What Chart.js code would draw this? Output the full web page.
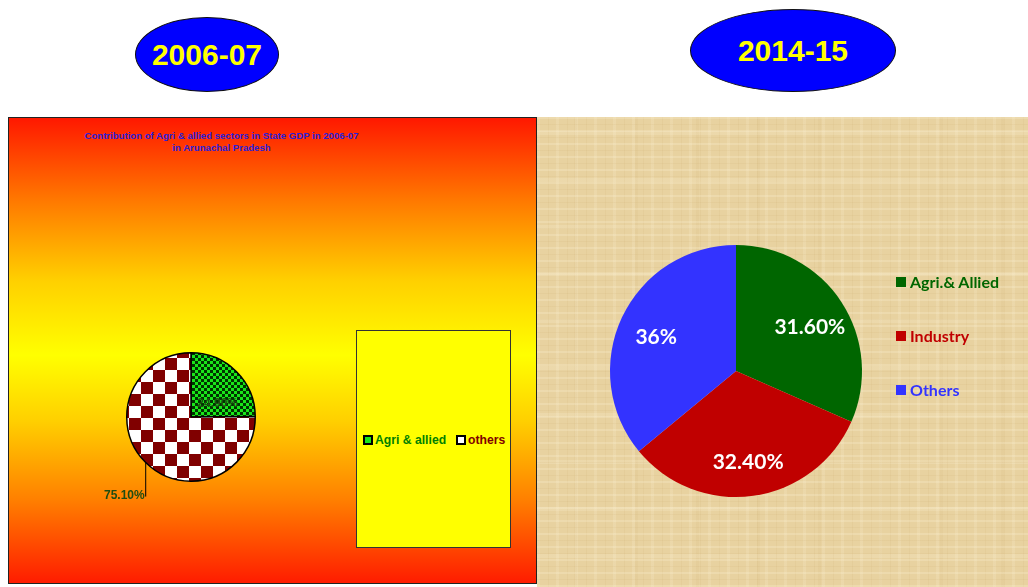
<!DOCTYPE html>
<html>
<head>
<meta charset="utf-8">
<script src="https://cdn.jsdelivr.net/npm/chart.js@4"></script>
<style>
  body { margin: 0; background: #fff; }
  #page { position: relative; width: 1028px; height: 587px; overflow: hidden; background: #fff; }
  .oval {
    position: absolute; background: #0000ff; border: 1px solid #111; border-radius: 50%;
    color: #ffff00; font: bold 30px "Liberation Sans", Arial, sans-serif;
    display: flex; align-items: center; justify-content: center; box-sizing: border-box;
  }
  #left {
    position: absolute; left: 8px; top: 117px; width: 529px; height: 467px; box-sizing: border-box;
    border: 1px solid #222;
    background: linear-gradient(to bottom, #ff1800 0%, #ff7a00 18%, #ffd000 35%, #ffff00 51%, #ffd000 65%, #ff8000 82%, #ff1c00 100%);
  }
  #right {
    position: absolute; left: 537px; top: 117px; width: 491px; height: 470px;
    background-color: #e8d2a0;
    background-image:
      repeating-linear-gradient(0deg, rgba(255,246,220,0.22) 0 2px, transparent 2px 7px, rgba(180,140,70,0.07) 7px 8px, transparent 8px 13px),
      repeating-linear-gradient(90deg, rgba(255,246,220,0.16) 0 3px, transparent 3px 11px, rgba(180,140,70,0.07) 11px 12px, transparent 12px 19px),
      repeating-linear-gradient(0deg, transparent 0 29px, rgba(255,246,220,0.18) 29px 33px, transparent 33px 47px),
      repeating-linear-gradient(90deg, transparent 0 37px, rgba(180,140,70,0.06) 37px 40px, transparent 40px 61px);
  }
  canvas { position: absolute; left: 0; top: 0; }
  #title06 {
    position: absolute; left: 0; top: 12px; width: 425px; text-align: center;
    font: bold 9.6px "Liberation Sans", Arial, sans-serif; color: #2a1fd8; line-height: 12px;
  }
  #legbox {
    position: absolute; left: 347px; top: 212px; width: 155px; height: 218px;
    background: #ffff00; border: 1px solid #333; box-sizing: border-box;
  }
  .lg1 { position: absolute; top: 315px; font: bold 12.2px "Liberation Sans", Arial, sans-serif; display: flex; align-items: center; }
  .lg1 i { display: inline-block; width: 6px; height: 6px; border: 2px solid #000; margin-right: 2px; }
  .lg2 { position: absolute; left: 359px; font: bold 16px Lato, "Open Sans", sans-serif; display: flex; align-items: center; }
  .lg2 i { display: inline-block; width: 10px; height: 10px; margin-right: 4px; }
</style>
</head>
<body>
<div id="page">
  <div class="oval" style="left:135px;top:17px;width:144px;height:75px;">2006-07</div>
  <div class="oval" style="left:690px;top:9px;width:206px;height:83px;">2014-15</div>

  <div id="left">
    <div id="title06">Contribution of Agri &amp; allied sectors in State GDP in 2006-07<br>in Arunachal Pradesh</div>
    <div id="legbox"></div>
    <div id="leg06"></div>
    <canvas id="pie06" width="527" height="465"></canvas>
  </div>

  <div id="right">
    <canvas id="pie14" width="491" height="470"></canvas>
    <div id="leg14"></div>
  </div>
</div>

<script>
  // 2006-07 data
  var labels06 = ["Agri & allied", "others"];
  var values06 = [24.9, 75.1];
  var text06 = ["24.90%", "75.10%"];
  var legendColors06 = ["#008000", "#800000"];

  // 2014-15 data
  var labels14 = ["Agri.& Allied", "Industry", "Others"];
  var values14 = [31.6, 32.4, 36];
  var text14 = ["31.60%", "32.40%", "36%"];
  var colors14 = ["#006600", "#c00000", "#3333ff"];

  function checker(size, a, b) {
    var c = document.createElement("canvas");
    c.width = size * 2;
    c.height = size * 2;
    var x = c.getContext("2d");
    x.fillStyle = a;
    x.fillRect(0, 0, size * 2, size * 2);
    x.fillStyle = b;
    x.fillRect(size, 0, size, size);
    x.fillRect(0, size, size, size);
    return x.createPattern(c, "repeat");
  }

  function init() {
    var ctx06 = document.getElementById("pie06").getContext("2d");
    var patterns06 = [checker(3, "#19e619", "#003300"), checker(12, "#ffffff", "#800000")];
    var legendSwatch06 = ["#19e619", "#ffffff"];

    // legend of the old chart
    var leg06 = document.getElementById("leg06");
    var lx = [354, 447];
    labels06.forEach(function (l, i) {
      var d = document.createElement("div");
      d.className = "lg1";
      d.style.left = lx[i] + "px";
      d.style.color = legendColors06[i];
      d.innerHTML = '<i style="background:' + legendSwatch06[i] + '"></i>' + l;
      leg06.appendChild(d);
    });

    var labels06Plugin = {
      id: "labels06",
      afterDatasetsDraw: function (chart) {
        var c = chart.ctx;
        var arcs = chart.getDatasetMeta(0).data;
        c.save();
        c.font = "bold 12px 'Liberation Sans', Arial, sans-serif";
        c.fillStyle = "#1f4d12";
        // label inside the small slice
        var p = arcs[0].tooltipPosition();
        c.textAlign = "center";
        c.textBaseline = "middle";
        c.fillText(text06[0], p.x + 4, p.y + 9);
        // label outside with leader line
        var a = arcs[1];
        var mid = (a.startAngle + a.endAngle) / 2;
        var sx = a.x + a.outerRadius * Math.cos(mid);
        var sy = a.y + a.outerRadius * Math.sin(mid);
        c.strokeStyle = "#000";
        c.lineWidth = 1;
        c.beginPath();
        c.moveTo(sx, sy);
        c.lineTo(sx, sy + 34);
        c.stroke();
        c.textAlign = "right";
        c.textBaseline = "alphabetic";
        c.fillText(text06[1], sx - 1, sy + 36);
        c.restore();
      },
    };

    new Chart(ctx06, {
      type: "pie",
      data: {
        labels: labels06,
        datasets: [
          {
            data: values06,
            backgroundColor: patterns06,
            borderColor: "#000",
            borderWidth: 1.5,
          },
        ],
      },
      options: {
        responsive: false,
        animation: false,
        devicePixelRatio: 1,
        layout: { padding: { left: 117, right: 280, top: 234, bottom: 101 } },
        plugins: { legend: { display: false }, tooltip: { enabled: false } },
      },
      plugins: [labels06Plugin],
    });

    // legend of the new chart
    var leg14 = document.getElementById("leg14");
    var ly = [165, 219, 273];
    labels14.forEach(function (l, i) {
      var d = document.createElement("div");
      d.className = "lg2";
      d.style.top = ly[i] - 10 + "px";
      d.style.color = colors14[i];
      d.innerHTML = '<i style="background:' + colors14[i] + '"></i>' + l;
      leg14.appendChild(d);
    });

    var labels14Plugin = {
      id: "labels14",
      afterDatasetsDraw: function (chart) {
        var c = chart.ctx;
        var arcs = chart.getDatasetMeta(0).data;
        c.save();
        c.font = "bold 21px Lato, 'Open Sans', sans-serif";
        c.fillStyle = "#fff";
        c.textAlign = "center";
        c.textBaseline = "middle";
        arcs.forEach(function (a, i) {
          var mid = (a.startAngle + a.endAngle) / 2;
          var r = a.outerRadius * 0.7;
          c.fillText(text14[i], a.x + r * Math.cos(mid), a.y + r * Math.sin(mid) + 4);
        });
        c.restore();
      },
    };

    new Chart(document.getElementById("pie14"), {
      type: "pie",
      data: {
        labels: labels14,
        datasets: [
          {
            data: values14,
            backgroundColor: colors14,
            borderWidth: 0,
          },
        ],
      },
      options: {
        responsive: false,
        animation: false,
        devicePixelRatio: 1,
        layout: { padding: { left: 73, right: 166, top: 128, bottom: 90 } },
        plugins: { legend: { display: false }, tooltip: { enabled: false } },
      },
      plugins: [labels14Plugin],
    });
  }

  document.addEventListener("DOMContentLoaded", init);
</script>
</body>
</html>
